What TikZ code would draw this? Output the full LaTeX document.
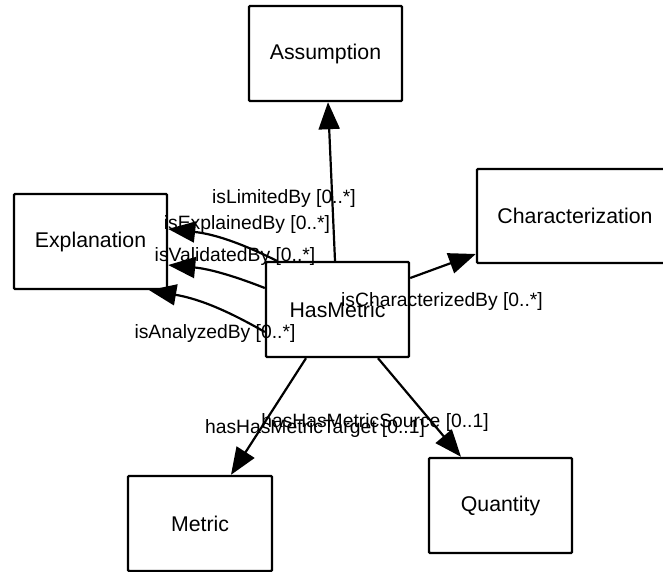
\documentclass[tikz,border=0pt]{standalone}
\usepackage{fontspec}
\setmainfont{Liberation Sans}
\usetikzlibrary{arrows.meta}
\begin{document}
\begin{tikzpicture}[x=1pt,y=-1pt,
  classbox/.style={draw, line width=2.4pt, rounded corners=1pt, inner sep=0pt,
    font=\fontsize{21.3}{25}\selectfont},
  rolelabel/.style={anchor=base, inner sep=0pt, font=\fontsize{19.3}{23}\selectfont},
  assoc/.style={line width=2.2pt, -{Triangle[length=27pt,width=21pt]}}]
\useasboundingbox (0,0) rectangle (663,571);
\clip (0,0) rectangle (663,571);

% classes
\node[classbox, minimum width=153pt, minimum height=95pt] (as) at (325.5,53.5) {Assumption};
\node[classbox, minimum width=153pt, minimum height=95pt] (ex) at (90.5,241.5) {Explanation};
\node[classbox, minimum width=143pt, minimum height=95pt] (hm) at (337.5,309.5) {HasMetric};
\node[classbox, minimum width=196pt, minimum height=94pt] (ch) at (575,216) {Characterization};
\node[classbox, minimum width=144pt, minimum height=95pt] (me) at (200,523.5) {Metric};
\node[classbox, minimum width=143pt, minimum height=95pt] (qu) at (500.5,505.5) {Quantity};

% role names
\node[rolelabel] (lLim) at (284,203) {isLimitedBy [0..*]};
\node[rolelabel] (lExp) at (247,229) {isExplainedBy [0..*]};
\node[rolelabel] (lVal) at (235,261) {isValidatedBy [0..*]};
\node[rolelabel] (lAna) at (215,338) {isAnalyzedBy [0..*]};
\node[rolelabel] (lCha) at (442,306) {isCharacterizedBy [0..*]};
\node[rolelabel] (lSrc) at (375,427) {hasHasMetricSource [0..1]};
\node[rolelabel] (lTgt) at (315,433) {hasHasMetricTarget [0..1]};

% associations
\draw[assoc] ([xshift=-2.5pt]hm.north) -- ([xshift=2.5pt]as.south);
\draw[assoc] ([yshift=31.5pt]hm.east) -- ([yshift=-38pt]ch.west);
\draw[assoc] ([xshift=12pt]hm.north west) to[bend right=10] ([yshift=12.5pt]ex.east);
\draw[assoc] ([yshift=21.5pt]hm.west) to[bend right=8] ([yshift=-23.5pt]ex.east);
\draw[assoc] ([yshift=-22.5pt]hm.west) to[bend right=10] ([xshift=-19pt]ex.south east);
\draw[assoc] ([xshift=-31.5pt]hm.south) -- ([xshift=31pt]me.north);
\draw[assoc] ([xshift=40.5pt]hm.south) -- ([xshift=-39.5pt]qu.north);
\end{tikzpicture}
\end{document}
